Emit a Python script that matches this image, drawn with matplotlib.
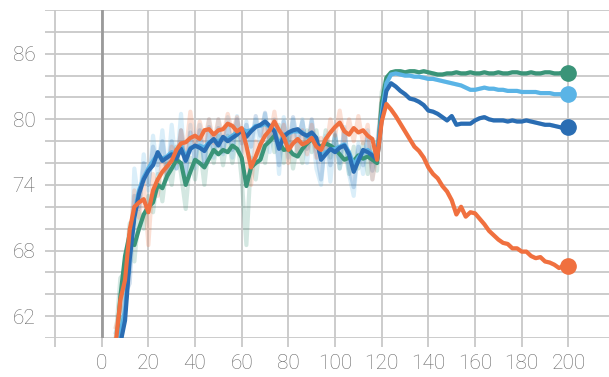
import numpy as np
import matplotlib
matplotlib.use("Agg")
import matplotlib.pyplot as plt

# epochs for the smoothed curves and the raw (faint) curves
epochs = np.arange(6, 201, 2)
raw_epochs = np.arange(6, 121, 2)

green = [58.5, 63.8, 67.5, 69.5, 68.5, 70.0, 71.3, 72.0, 72.4, 74.0,
         73.7, 74.8, 75.5, 76.3, 76.0, 74.0, 75.2, 76.3, 76.0, 75.6,
         76.4, 77.2, 76.8, 77.2, 77.0, 77.6, 77.3, 76.5, 73.9, 75.6,
         76.0, 76.3, 77.6, 78.0, 78.5, 77.9, 77.2, 77.3, 76.8, 76.6,
         77.3, 77.8, 78.2, 77.7, 77.5, 77.8, 77.6, 77.3, 76.8, 76.3,
         76.5, 76.2, 76.7, 76.4, 76.6, 76.3, 76.0,
         81.5, 83.8, 84.3,
         84.4, 84.4, 84.3, 84.4, 84.4, 84.3, 84.4, 84.3, 84.2, 84.1,
         84.1, 84.2, 84.2, 84.3, 84.2, 84.2, 84.3, 84.2, 84.2, 84.3,
         84.2, 84.2, 84.3, 84.2, 84.2, 84.3, 84.3, 84.2, 84.2, 84.3,
         84.2, 84.2, 84.3, 84.3, 84.2, 84.2, 84.3, 84.2]

light_blue = [57.5, 60.5, 62.5, 67.5, 71.5, 73.5, 74.7, 75.5, 76.2, 76.8,
              76.4, 76.6, 77.0, 76.8, 77.6, 76.5, 77.4, 77.5, 77.6, 77.4,
              77.9, 78.1, 78.0, 78.3, 78.2, 78.5, 78.8, 79.1, 78.9, 79.0,
              79.4, 79.4, 79.6, 79.3, 79.0, 77.6, 78.6, 78.7, 78.9, 78.9,
              78.8, 78.4, 78.6, 78.0, 76.6, 77.0, 77.2, 77.3, 77.5, 77.7,
              77.0, 75.8, 76.5, 77.0, 77.2, 76.8, 76.5,
              80.5, 83.3, 84.1,
              84.2, 84.1, 84.0, 84.0, 83.9, 83.9, 83.8, 83.7, 83.7, 83.6,
              83.5, 83.4, 83.3, 83.2, 83.1, 82.9, 82.7, 82.7, 82.8, 82.9,
              82.8, 82.8, 82.7, 82.7, 82.6, 82.6, 82.6, 82.5, 82.5, 82.5,
              82.5, 82.4, 82.4, 82.4, 82.3, 82.3, 82.3, 82.3]

dark_blue = [57.0, 59.5, 61.6, 67.2, 71.0, 73.2, 74.5, 75.3, 75.8, 77.0,
             76.2, 76.5, 76.8, 76.4, 77.3, 76.2, 77.3, 77.6, 77.4, 77.1,
             77.8, 78.2, 77.6, 78.4, 78.0, 78.3, 78.6, 79.0, 78.4, 78.9,
             79.3, 79.5, 79.8, 79.4, 78.9, 77.3, 78.4, 78.8, 79.0, 79.1,
             78.7, 78.5, 78.8, 78.3, 76.3, 76.8, 77.3, 77.0, 77.4, 77.6,
             76.8, 75.2, 76.2, 77.2, 77.0, 76.7, 76.3,
             80.0, 82.6, 83.3,
             83.0, 82.6, 82.3, 81.9, 81.8, 81.6, 81.3, 80.8, 80.7, 80.5,
             80.2, 79.9, 80.3, 79.5, 79.6, 79.6, 79.6, 79.9, 80.1, 80.2,
             80.0, 79.9, 79.9, 79.9, 79.8, 79.9, 79.8, 79.8, 79.9, 79.8,
             79.7, 79.6, 79.5, 79.5, 79.4, 79.3, 79.2, 79.3]

orange = [59.5, 63.5, 65.3, 69.9, 72.0, 72.4, 72.7, 71.5, 73.5, 74.5,
          75.2, 75.7, 76.2, 77.2, 77.8, 77.9, 78.3, 78.5, 78.2, 79.0,
          79.1, 78.6, 79.0, 79.1, 79.6, 79.4, 78.9, 79.2, 77.6, 75.6,
          76.6, 77.7, 78.5, 79.0, 79.8, 79.0, 78.4, 77.2, 77.8, 78.2,
          77.7, 77.9, 78.3, 77.5, 77.2, 78.2, 78.8, 79.3, 79.7, 78.9,
          78.6, 79.2, 78.8, 79.0, 78.5, 78.2, 76.3,
          79.8, 81.4, 80.9,
          80.3, 79.6, 78.9, 78.2, 77.5, 77.1, 76.5, 75.6, 75.0, 74.6,
          73.9, 73.4, 72.6, 71.3, 72.0, 71.1, 71.5, 71.4, 70.9, 70.4,
          69.8, 69.4, 69.0, 68.7, 68.6, 68.2, 68.2, 67.9, 67.9, 67.5,
          67.3, 67.4, 67.0, 66.9, 66.7, 66.4, 66.6, 66.6]

# unsmoothed values (faint shadows), epochs 6..120
green_raw = [60.0, 65.5, 66.0, 70.5, 67.0, 71.5, 70.0, 73.0, 71.5, 75.0,
             72.5, 76.0, 74.0, 77.5, 75.0, 71.8, 76.5, 74.5, 77.5, 74.0,
             77.8, 76.0, 78.5, 75.8, 78.5, 76.0, 78.5, 74.5, 68.5, 76.5,
             74.5, 77.8, 76.0, 79.0, 77.0, 79.5, 76.0, 78.5, 75.5, 77.8,
             76.0, 79.0, 77.0, 79.0, 76.3, 79.0, 76.5, 78.5, 75.5, 77.5,
             75.0, 77.5, 75.5, 77.8, 75.0, 77.5, 75.3, 82.5]

light_blue_raw = [60.5, 61.5, 67.0, 66.0, 75.5, 72.0, 76.8, 73.5, 78.5, 75.0,
                  79.0, 74.5, 79.5, 75.5, 80.5, 74.8, 79.5, 75.5, 79.5, 75.8,
                  80.0, 76.5, 80.0, 76.8, 80.2, 76.5, 80.3, 76.8, 79.8, 76.5,
                  80.0, 77.5, 80.5, 77.0, 80.0, 75.0, 80.2, 76.5, 80.0, 76.8,
                  80.0, 76.0, 79.8, 75.5, 74.0, 78.5, 74.3, 78.8, 75.5, 79.3,
                  75.0, 73.0, 77.8, 75.0, 79.0, 74.5, 77.8, 81.5]

dark_blue_raw = [59.0, 58.5, 64.0, 65.0, 73.0, 71.8, 76.0, 74.0, 77.5, 75.8,
                 78.0, 75.0, 78.0, 75.5, 79.0, 75.0, 78.8, 76.2, 79.0, 76.0,
                 79.3, 77.0, 79.2, 77.0, 79.6, 77.2, 80.0, 77.8, 79.5, 77.5,
                 80.3, 78.5, 80.6, 78.0, 79.8, 75.8, 79.8, 77.5, 80.2, 78.0,
                 79.8, 77.3, 80.0, 77.0, 74.5, 78.2, 75.8, 78.6, 76.0, 79.0,
                 75.5, 73.8, 77.5, 75.8, 78.5, 75.3, 77.3, 81.0]

orange_raw = [61.0, 62.5, 66.5, 68.0, 73.5, 71.0, 74.5, 68.5, 75.0, 73.0,
              76.5, 74.8, 77.5, 76.0, 79.0, 77.0, 80.7, 77.5, 79.8, 78.0,
              80.0, 77.8, 80.0, 78.4, 80.5, 78.8, 80.2, 78.0, 76.5, 74.0,
              78.0, 76.8, 79.5, 78.0, 80.7, 77.8, 79.5, 76.0, 79.0, 77.0,
              79.0, 76.8, 79.5, 76.5, 78.3, 77.0, 80.0, 78.5, 80.8, 78.0,
              80.0, 78.0, 80.3, 77.8, 79.5, 74.5, 77.0, 82.0]

x_ticks = list(range(-20, 201, 20))
y_ticks = list(range(60, 91, 2))
y_labels = [62, 68, 74, 80, 86]

series = [
    (green, green_raw, '#3a9478'),
    (light_blue, light_blue_raw, '#5ab4e6'),
    (dark_blue, dark_blue_raw, '#2a6db3'),
    (orange, orange_raw, '#f0703f'),
]

plt.rcParams['font.family'] = ['Roboto', 'DejaVu Sans']

fig = plt.figure(figsize=(6.09, 3.77), dpi=100)
ax = fig.add_axes([45 / 609, 39 / 377, 564 / 609, 328 / 377])

for vals, raw, color in series:
    shadow = np.concatenate([raw, vals[len(raw):]])
    ax.plot(epochs, shadow, color=color, lw=3, alpha=0.22,
            solid_joinstyle='round', zorder=2)
for vals, raw, color in series:
    ax.plot(epochs, vals, color=color, lw=3, solid_joinstyle='round', zorder=3)
    ax.plot(epochs[-1], vals[-1], 'o', color=color, ms=11, zorder=4)

ax.axvline(0, color='#9a9a9a', lw=2, zorder=1)

ax.set_xlim(-24.3, 217.4)
ax.set_ylim(60, 90)
ax.set_xticks(x_ticks)
ax.set_xticklabels(['' if t < 0 else str(t) for t in x_ticks])
ax.set_yticks(y_ticks)
ax.set_yticklabels([str(t) if t in y_labels else '' for t in y_ticks])

ax.grid(True, color='#c8c8c8', lw=1.3, zorder=0)
ax.set_axisbelow(True)
for s in ax.spines.values():
    s.set_visible(False)
ax.tick_params(axis='x', length=6.5, width=1.3, color='#c8c8c8', pad=5,
               labelsize=15, labelcolor='#666666')
ax.tick_params(axis='y', length=0, pad=7, labelsize=15, labelcolor='#666666')
for lab in ax.get_xticklabels() + ax.get_yticklabels():
    lab.set_fontweight('light')

fig.savefig('out.png', dpi=100)
